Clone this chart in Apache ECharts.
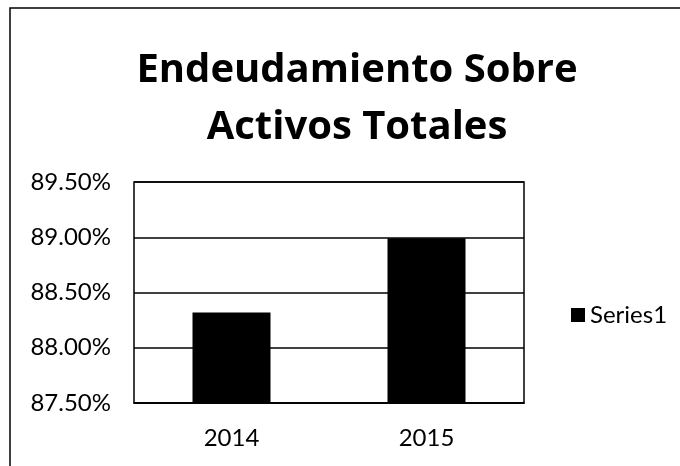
<!DOCTYPE html>
<html>
<head>
<meta charset="utf-8">
<script src="https://cdn.jsdelivr.net/npm/echarts@6/dist/echarts.min.js"></script>
<style>
  html, body { margin: 0; padding: 0; background: #fff; }
  #chart { width: 680px; height: 466px; }
</style>
</head>
<body>
<div id="chart"></div>
<script>
// datos
var years = ['2014', '2015'];
var series1 = [88.32, 88.99];
var yTicks = [87.5, 88.0, 88.5, 89.0, 89.5];

var font = 'Lato';
var chart = echarts.init(document.getElementById('chart'));

chart.setOption({
  animation: false,
  backgroundColor: '#fff',
  title: {
    text: 'Endeudamiento Sobre\nActivos Totales',
    left: 352,
    top: 37,
    textAlign: 'center',
    textStyle: { fontFamily: 'Open Sans', fontWeight: 'bold', fontSize: 40, lineHeight: 57, color: '#000' }
  },
  legend: {
    data: ['Series1'],
    left: 566,
    top: 298,
    icon: 'rect',
    itemWidth: 14,
    itemHeight: 14,
    itemGap: 6,
    textStyle: { fontFamily: font, fontSize: 24, color: '#000' }
  },
  grid: {
    left: 134, right: 156, top: 182, bottom: 63,
    show: true, borderColor: '#000', borderWidth: 1.5
  },
  xAxis: {
    type: 'category',
    data: years,
    axisLine: { show: true, lineStyle: { color: '#000', width: 1.5 } },
    axisTick: { show: false },
    axisLabel: { fontFamily: font, fontSize: 24, color: '#000', margin: 23 }
  },
  yAxis: {
    type: 'value',
    min: yTicks[0],
    max: yTicks[yTicks.length - 1],
    interval: 0.5,
    axisLine: { show: false },
    axisTick: { show: false },
    splitLine: { lineStyle: { color: '#000', width: 1.5 } },
    axisLabel: {
      fontFamily: font, fontSize: 24, color: '#000', margin: 23,
      formatter: function (v) { return v.toFixed(2) + '%'; }
    }
  },
  series: [{
    name: 'Series1',
    type: 'bar',
    data: series1,
    barWidth: '40%',
    itemStyle: { color: '#000' }
  }],
  graphic: [{
    type: 'rect',
    shape: { x: 10, y: 8, width: 700, height: 500 },
    style: { fill: 'none', stroke: '#000', lineWidth: 1.5 },
    silent: true
  }]
});
</script>
</body>
</html>
